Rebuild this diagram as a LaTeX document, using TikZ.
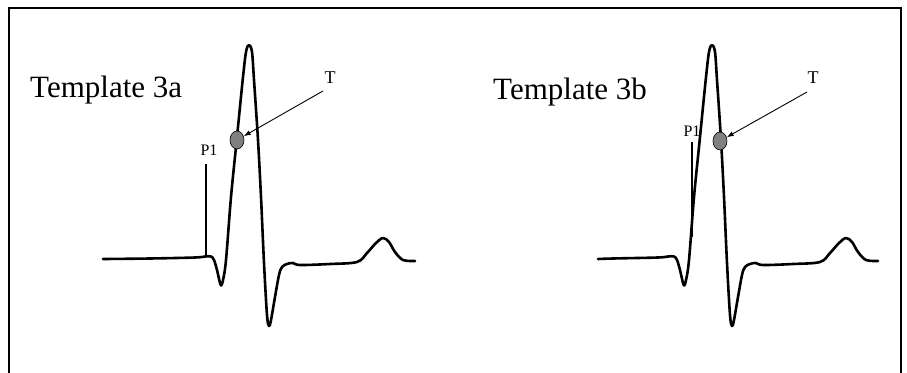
\documentclass[tikz,border=0pt]{standalone}
\usepackage{fontspec}
\setmainfont{Liberation Serif}
\usetikzlibrary{arrows.meta,shapes.geometric}

\begin{document}
\begin{tikzpicture}[
  x=1pt, y=-1pt,
  >={Latex[length=7pt, width=5pt]},
  frame/.style={line width=2.5pt, black},
  wave/.style={line width=2.6pt, black, line join=round, line cap=round},
  marker/.style={line width=1.8pt, black},
  pointer/.style={->, line width=0.9pt, black},
  dot/.style={ellipse, draw=black, line width=0.6pt, fill=black!50,
    minimum width=14pt, minimum height=18pt, inner sep=0pt},
  title/.style={font=\fontsize{31}{31}\selectfont, inner sep=0pt, anchor=base west},
  tlabel/.style={font=\fontsize{18}{18}\selectfont, inner sep=0pt},
  plabel/.style={font=\fontsize{16}{16}\selectfont, inner sep=0pt}
]
  \useasboundingbox (0,0) rectangle (907,372);
  \draw[frame] (9,373) -- (9,8) -- (901,8) -- (901,373);

  % the two traces, same shape, shifted
  \foreach \dx/\xs in {0/103, 463/135} {
    \draw[wave, xshift=\dx] plot[smooth, tension=0.55] coordinates {
      (\xs,259) (150,258.5) (195,257.5) (205,256.5) (211,256.5) (214,260)
      (217,270) (220.7,285) (223,280) (226,260) (231,197) (236.7,140)
      (242.7,80) (246,52) (249,45) (252,52) (254,80) (258,140) (261,197)
      (264,263) (267,315) (269,326) (271,320) (275,297) (279,275) (282,267)
      (287,264) (293,263) (300,265) (330,264) (357,262) (367,253) (376,243)
      (383,238) (389,242) (395,252) (403,260) (415,261)};
  }

  % template 3a
  \node[title] (titleA) at (30,97) {Template 3a};
  \node[dot] (dotA) at (237,140) {};
  \node[tlabel] (tA) at (330,78) {T};
  \coordinate (tailA) at (323,91);
  \draw[pointer] (tailA) -- (dotA);
  \node[plabel] (p1A) at (209,150) {P1};
  \draw[marker] (206,164) -- (206,257);

  % template 3b
  \node[title] (titleB) at (493,99) {Template 3b};
  \node[dot] (dotB) at (720,141) {};
  \node[tlabel] (tB) at (813,78) {T};
  \coordinate (tailB) at (807,92);
  \draw[pointer] (tailB) -- (dotB);
  \node[plabel] (p1B) at (692,131) {P1};
  \draw[marker] (692,142) -- (692,237);
\end{tikzpicture}
\end{document}
